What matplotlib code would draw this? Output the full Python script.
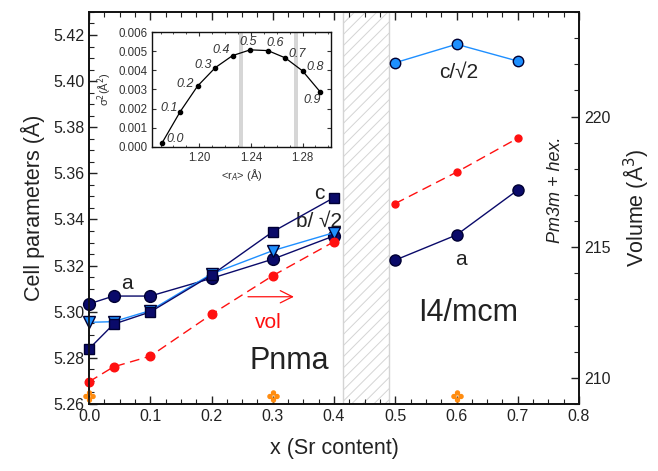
import matplotlib
matplotlib.use('Agg')
import matplotlib.pyplot as plt
from matplotlib.path import Path
from matplotlib.ticker import MultipleLocator

plt.rcParams['font.family'] = ['Liberation Sans', 'DejaVu Sans']
plt.rcParams['hatch.linewidth'] = 0.7

# Pnma region (x <= 0.4)
x_pnma = [0.0, 0.04, 0.1, 0.2, 0.3, 0.4]
a_pnma = [5.3034, 5.3068, 5.3068, 5.3145, 5.3228, 5.3329]
c_pnma = [5.2839, 5.2946, 5.2999, 5.3159, 5.3347, 5.3495]
b_pnma = [5.2954, 5.2957, 5.3005, 5.3164, 5.3265, 5.3343]
vol_pnma = [209.85, 210.42, 210.83, 212.43, 213.91, 215.21]

# I4/mcm region
x_i4 = [0.5, 0.6, 0.7]
a_i4 = [5.3224, 5.3333, 5.3528]
c_i4 = [5.4080, 5.4160, 5.4087]
vol_i4 = [216.67, 217.87, 219.17]

# hexagonal impurity marks
x_hex = [0.0, 0.3, 0.6]
y_hex = [5.2635, 5.2635, 5.2635]

# inset: size variance vs <rA>
inset_sr = ['0.0', '0.1', '0.2', '0.3', '0.4', '0.5', '0.6', '0.7', '0.8', '0.9']
inset_ra = [1.1711, 1.1853, 1.1987, 1.2124, 1.2258, 1.2395, 1.2532, 1.2666, 1.2800, 1.2937]
inset_sig = [0.0002, 0.00185, 0.00318, 0.00414, 0.00477, 0.00507, 0.00503, 0.00465, 0.00397, 0.00287]
inset_bands = [1.2323, 1.2750]
# label offsets in pixels
inset_off = [(13, 4), (-11, 4), (-12, 2), (-12, 3), (-11, 6), (-2, 8), (7, 8), (12, 4), (13, 4), (-8, -8)]

navy = '#0a0a6a'
lblue = '#1e8fff'
red = '#ff1010'
orange = '#ff8c10'
txt = '#222222'

# four-dot marker for the hex points
dots = [Path.circle((0, 1), 0.55), Path.circle((0, -1), 0.55),
        Path.circle((1, 0), 0.55), Path.circle((-1, 0), 0.55)]
quad = Path.make_compound_path(*dots)

fig = plt.figure(figsize=(6.58, 4.71), dpi=100)
ax = fig.add_axes([0.1353, 0.1423, 0.7447, 0.8323])
ax2 = ax.twinx()

ax.axvspan(0.415, 0.49, facecolor='white', edgecolor='#d4d4d4', hatch='///', lw=1.0, zorder=0)

ax.plot(x_pnma, a_pnma, '-o', color=navy, mfc=navy, mec='#000033', ms=8.5, lw=1.0, zorder=4, clip_on=False)
ax.plot(x_pnma, b_pnma, '-v', color=lblue, mfc=lblue, mec='#000033', ms=8, lw=1.0, zorder=5, clip_on=False)
ax.plot(x_pnma, c_pnma, '-s', color=navy, mfc=navy, mec='#000033', ms=7.5, lw=1.0, zorder=6, clip_on=False)
ax.plot(x_i4, a_i4, '-o', color=navy, mfc=navy, mec='#000033', ms=8, lw=1.0, zorder=4)
ax.plot(x_i4, c_i4, '-o', color=lblue, mfc=lblue, mec='#000033', ms=7.5, lw=1.0, zorder=4)
ax.plot(x_hex, y_hex, ls='none', marker=quad, color=orange, ms=8, zorder=4, clip_on=False)

ax2.plot(x_pnma, vol_pnma, '--o', color=red, mfc=red, mec=red, ms=6.2, lw=1.0, dashes=(7, 4), clip_on=False)
ax2.plot(x_i4, vol_i4, '--o', color=red, mfc=red, mec=red, ms=5, lw=1.0, dashes=(7, 4))

ax.set_xlim(0, 0.8)
ax.set_ylim(5.26, 5.43)
ax2.set_ylim(209.0, 224.0)

ax.set_xticks([0.0, 0.1, 0.2, 0.3, 0.4, 0.5, 0.6, 0.7, 0.8])
ax.xaxis.set_minor_locator(MultipleLocator(0.025))
ax.set_yticks([5.26, 5.28, 5.30, 5.32, 5.34, 5.36, 5.38, 5.40, 5.42])
ax.yaxis.set_minor_locator(MultipleLocator(0.005))
ax.set_yticklabels(['%.2f' % v for v in ax.get_yticks()])
ax.set_xticklabels(['%.1f' % v for v in ax.get_xticks()])
ax2.set_yticks([210, 215, 220])
ax2.yaxis.set_minor_locator(MultipleLocator(1))

ax.tick_params(which='both', direction='in', top=True, right=False, labelsize=11.5, colors=txt)
ax.tick_params(which='major', length=6, width=1)
ax.tick_params(which='minor', length=3.5, width=0.8)
ax2.tick_params(which='both', direction='in', labelsize=11.5, colors=txt)
ax2.tick_params(which='major', length=6, width=1)
ax2.tick_params(which='minor', length=3.5, width=0.8)
for a in (ax, ax2):
    for s in a.spines.values():
        s.set_linewidth(1.2)
        s.set_color('#111111')

ax.set_xlabel('x (Sr content)', fontsize=15.5, color=txt, labelpad=10)
ax.set_ylabel('Cell parameters (Å)', fontsize=15.5, color=txt, labelpad=6)
ax2.set_ylabel('Volume (Å$^3$)', fontsize=15.5, color=txt, labelpad=8)

ax.text(0.0615, 5.3123, 'a', fontsize=15, color=txt, ha='center', va='center')
ax.text(0.376, 5.3514, 'c', fontsize=15, color=txt, ha='center', va='center')
ax.text(0.376, 5.3390, 'b/ √2', fontsize=15, color=txt, ha='center', va='center')
ax.text(0.607, 5.3228, 'a', fontsize=15, color=txt, ha='center', va='center')
ax.text(0.603, 5.4039, 'c/√2', fontsize=15, color=txt, ha='center', va='center')
ax.text(0.293, 5.2953, 'vol', fontsize=15, color=red, ha='center', va='center')
ax.annotate('', xy=(0.339, 5.3065), xytext=(0.255, 5.3065),
            arrowprops=dict(arrowstyle='->', color=red, lw=0.9, mutation_scale=22))
ax.text(0.327, 5.2788, 'Pnma', fontsize=22, color=txt, ha='center', va='center')
ax.text(0.619, 5.2993, 'I4/mcm', fontsize=22, color=txt, ha='center', va='center')
ax.text(0.762, 5.3528, 'Pm3m + hex.', fontsize=13, style='italic', color=txt,
        rotation=90, ha='center', va='center')

# inset
ins = fig.add_axes([0.231, 0.688, 0.272, 0.244])
for b in inset_bands:
    ins.axvspan(b - 0.0015, b + 0.0015, color='#d6d6d6', lw=0, zorder=0)
ins.plot(inset_ra, inset_sig, '-o', color='black', ms=3, lw=0.9)
for r, s, lab, off in zip(inset_ra, inset_sig, inset_sr, inset_off):
    ins.annotate(lab, (r, s), xytext=off, textcoords='offset pixels', fontsize=9,
                 style='italic', color='#333333', ha='center', va='center')
ins.set_xlim(1.1634, 1.302)
ins.set_ylim(0, 0.006)
ins.set_xticks([1.20, 1.24, 1.28])
ins.xaxis.set_minor_locator(MultipleLocator(0.01))
ins.set_yticks([0.000, 0.001, 0.002, 0.003, 0.004, 0.005, 0.006])
ins.set_yticklabels(['%.3f' % v for v in ins.get_yticks()])
ins.set_xticklabels(['%.2f' % v for v in ins.get_xticks()])
ins.tick_params(which='both', direction='in', top=True, right=True, labelsize=8.3, colors='#333333')
ins.tick_params(which='major', length=3, width=0.8)
ins.tick_params(which='minor', length=1.5, width=0.6)
for s in ins.spines.values():
    s.set_linewidth(1.0)
    s.set_color('#111111')
ins.set_xlabel('<r$_A$> (Å)', fontsize=8, color='#333333', labelpad=2)
ins.set_ylabel('σ$^2$(Å$^2$)', fontsize=8, color='#333333')
ins.yaxis.set_label_coords(-0.21, 0.5)

fig.savefig('out.png', dpi=100)
